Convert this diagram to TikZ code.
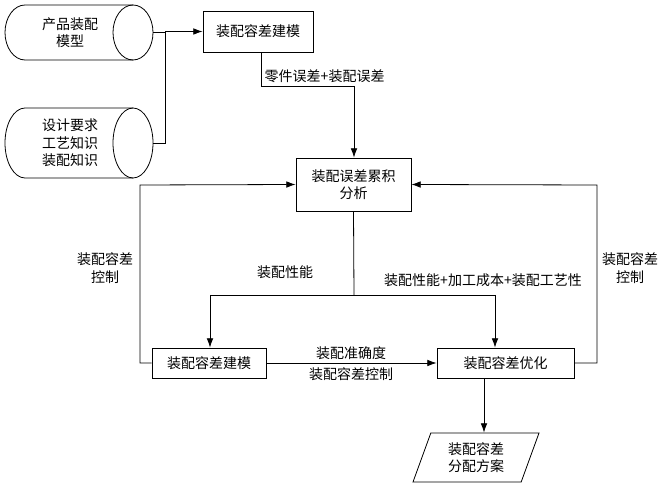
\documentclass[tikz,border=0pt]{standalone}
\usepackage{fontspec}
\setmainfont{Noto Sans CJK SC}
\usetikzlibrary{arrows.meta,shapes.geometric}
\begin{document}
\begin{tikzpicture}[x=0.75pt,y=-0.75pt,
  font=\fontsize{10.5}{13}\selectfont,
  every path/.style={line width=0.6pt},
  box/.style={draw,align=center,inner sep=0pt},
  lbl/.style={align=center,inner sep=1pt},
  arr/.style={-{Latex[length=7pt,width=5pt]}}]
\useasboundingbox (0,0) rectangle (672,491);
% cylinders
\foreach \n/\ya/\yb/\t in {c1/5/60/{产品装配\\模型}, c2/108/178/{设计要求\\工艺知识\\装配知识}}{
  \pgfmathsetmacro\ym{(\ya+\yb)/2}
  \pgfmathsetmacro\ry{(\yb-\ya)/2*0.75}
  \draw (133,\ya) -- (25,\ya) arc[start angle=90,end angle=270,x radius=15pt,y radius=\ry pt] -- (133,\yb);
  \draw (133,\ym) ellipse[x radius=15pt,y radius=\ry pt];
  \node[lbl] (\n) at (70,\ym) {\t};
  \coordinate (\n e) at (153,\ym);
}
\node[box,minimum width=82.5pt,minimum height=30.75pt] (m1) at (258,31.5) {装配容差建模};
\node[box,minimum width=86.25pt,minimum height=39.75pt] (an) at (353.5,184.5) {装配误差累积\\分析};
\node[box,minimum width=85.5pt,minimum height=22.5pt] (m2) at (209,363) {装配容差建模};
\node[box,minimum width=102.75pt,minimum height=22.5pt] (op) at (505.5,363) {装配容差优化};
\node[draw,trapezium,trapezium left angle=70,trapezium right angle=110,align=center,minimum width=75pt,minimum height=36.75pt,inner sep=0pt] (pl) at (476,457.5) {装配容差\\分配方案};
% connections
\draw (c1e) -- (165,32.5) -- (165,143) -- (c2e);
\draw[arr] (165,31.5) -- (m1.west);
\draw[arr] (m1.south -| 261,0) -- (261,86) -- (354,86) -- (an.north -| 354,0);
\node[lbl,anchor=south west] (l1) at (263,84) {零件误差+装配误差};
\draw (an.south) -- (354,295);
\draw (210,295) -- (495,295);
\draw[arr] (210,295) -- (m2.north -| 210,0);
\draw[arr] (495,295) -- (op.north -| 495,0);
\node[lbl] (l2) at (285,272) {装配性能};
\node[lbl] (l3) at (483,280) {装配性能+加工成本+装配工艺性};
\draw[arr] (m2.east) -- (op.west);
\node[lbl,anchor=south] (l4) at (351,361) {装配准确度};
\node[lbl,anchor=north] (l5) at (351,366) {装配容差控制};
\draw[arr] (m2.west) -- (140,363) -- (140,185) -- (an.west);
\draw[arr] (op.east) -- (597,363) -- (597,185) -- (an.east);
\node[lbl] (l6) at (105,268) {装配容差\\控制};
\node[lbl] (l7) at (630,268) {装配容差\\控制};
\draw[arr] (op.south -| 484,0) -- (pl.north -| 484,0);
\end{tikzpicture}
\end{document}
